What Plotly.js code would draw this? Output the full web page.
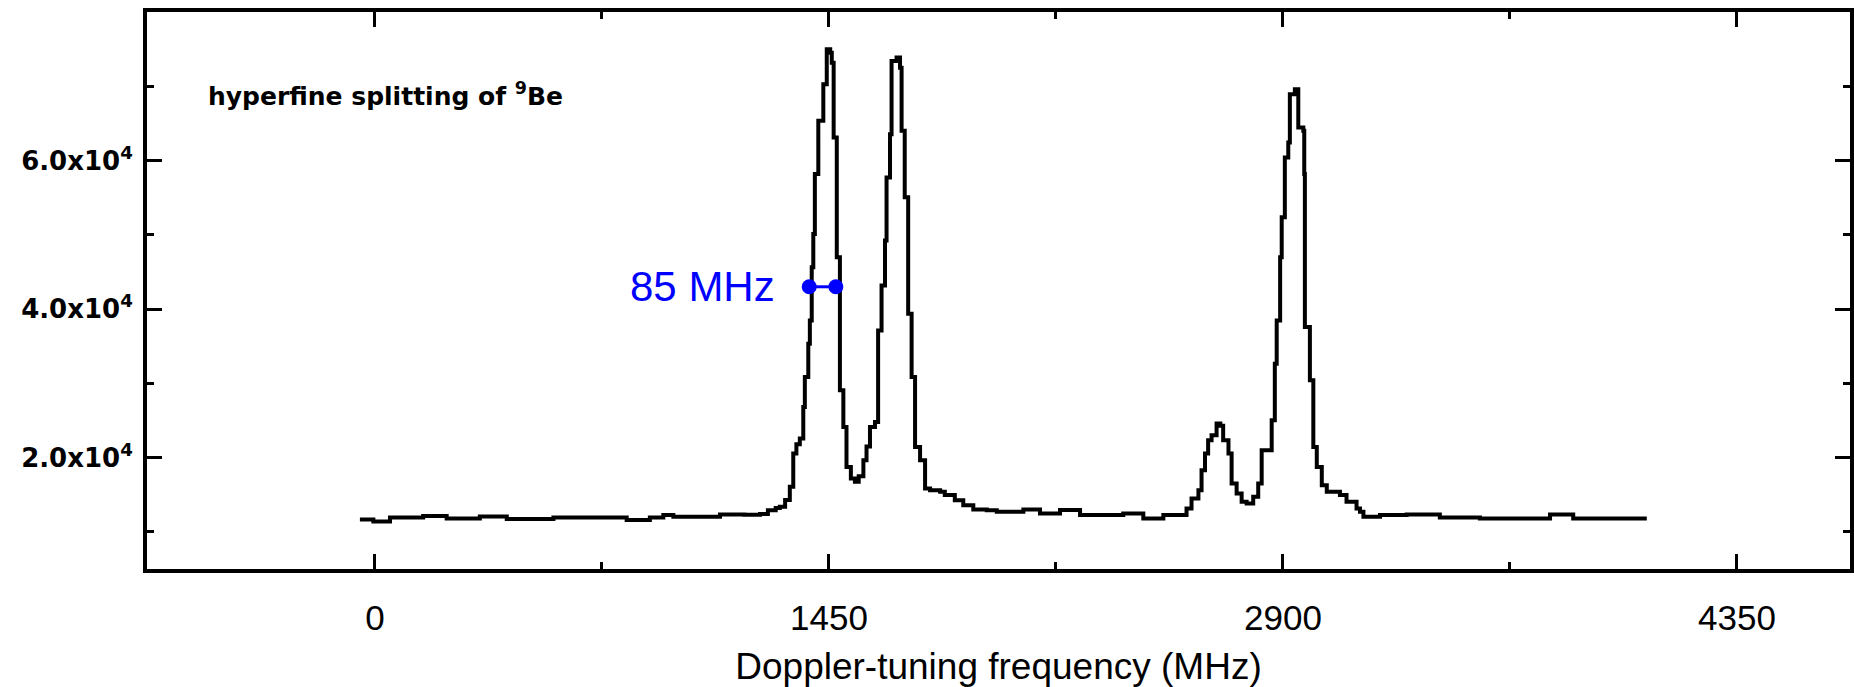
<!DOCTYPE html>
<html>
<head>
<meta charset="utf-8">
<script src="https://cdn.plot.ly/plotly-3.0.1.min.js"></script>
<style>
  html, body { margin: 0; padding: 0; background: #ffffff; }
  #chart { width: 1854px; height: 687px; }
</style>
</head>
<body>
<div id="chart"></div>
<script>
// Doppler-tuning frequency (MHz)
const freq = [
  -48, -5, 48, 154, 229, 335, 421, 570, 655, 804, 878, 921, 953, 1102, 1180, 1230,
  1255, 1280, 1293, 1310, 1325, 1336, 1346, 1357, 1368, 1373, 1384, 1389, 1395, 1400,
  1405, 1416, 1432, 1443, 1454, 1459, 1465, 1475, 1485, 1496, 1506, 1520, 1533, 1545,
  1560, 1570, 1581, 1597, 1607, 1618, 1629, 1634, 1645, 1650, 1666, 1677, 1682, 1692,
  1703, 1714, 1725, 1741, 1757, 1773, 1805, 1820, 1852, 1879, 1911, 1954, 1986, 2071,
  2124, 2188, 2252, 2390, 2454, 2518, 2571, 2592, 2608, 2630, 2640, 2651, 2661, 2672,
  2688, 2700, 2709, 2726, 2736, 2752, 2768, 2784, 2805, 2821, 2832, 2859, 2864, 2874,
  2880, 2891, 2896, 2906, 2917, 2922, 2938, 2949, 2965, 2968, 2970, 2986, 2997, 3008,
  3024, 3040, 3082, 3103, 3114, 3135, 3146, 3157, 3210, 3295, 3401, 3529, 3753, 3827,
  4062
];
// Signal counts
const counts = [
  11680, 11400, 11950, 12120, 11810, 12060, 11720, 11950, 11950, 11600, 11950, 12260, 12050, 12350, 12300, 12400,
  12900, 13200, 13370, 14300, 16060, 20550, 21800, 22570, 26810, 30850, 35330, 38460, 45630, 50120,
  58180, 65350, 70280, 74980, 74500, 73180, 63100, 46970, 29060, 24130, 18750, 17200, 16740, 17500,
  19650, 21500, 24130, 24800, 37120, 43170, 49220, 57730, 63550, 73410, 73860, 72500, 64000, 55040,
  39360, 30850, 21440, 19650, 15850, 15620, 15390, 14950, 14270, 13600, 13020, 12920, 12700, 13020,
  12480, 12930, 12260, 12480, 11810, 12260, 12260, 13160, 14500, 15620, 18310, 20550, 22340, 23010,
  24580, 24300, 22340, 20550, 16520, 15170, 14050, 13830, 14720, 16520, 20990, 20990, 25020, 32650,
  38460, 46970, 52350, 60410, 62430, 68920, 69600, 64450, 64000, 58180, 37570, 30400, 21440, 18750,
  16290, 15390, 14950, 14050, 14050, 13160, 12700, 12030, 12260, 12350, 11950, 11810, 12350, 11810,
  11810
];

const xTickVals = [0, 1450, 2900, 4350];
const xTickText = ["0", "1450", "2900", "4350"];
const xMinorVals = [725, 2175, 3625];
const yTickVals = [20000, 40000, 60000];
const yTickText = ["2.0x10<sup>4</sup>", "4.0x10<sup>4</sup>", "6.0x10<sup>4</sup>"];
const yMinorVals = [10000, 30000, 50000, 70000];

// FWHM marker of the first peak
const fwhmX = [1387, 1472];
const fwhmY = [43000, 43000];
const fwhmLabel = "85 MHz";
const plotLabel = "hyperfine splitting of <sup>9</sup>Be";
const xTitle = "Doppler-tuning frequency (MHz)";

const traces = [
  {
    x: freq, y: counts, type: "scatter", mode: "lines",
    line: { color: "#000000", width: 4, shape: "hv" },
    hoverinfo: "skip"
  },
  {
    x: fwhmX, y: fwhmY, type: "scatter", mode: "lines+markers",
    line: { color: "#0000ff", width: 3 },
    marker: { color: "#0000ff", size: 15 },
    hoverinfo: "skip"
  }
];

const layout = {
  width: 1854, height: 687,
  margin: { l: 147, r: 4, t: 12, b: 118, pad: 0 },
  paper_bgcolor: "#ffffff", plot_bgcolor: "#ffffff",
  showlegend: false,
  xaxis: {
    range: [-728, 4711], autorange: false,
    tickmode: "array", tickvals: xTickVals, ticktext: xTickText,
    ticks: "inside", ticklen: 15, tickwidth: 3, tickcolor: "#000000",
    minor: { tickmode: "array", tickvals: xMinorVals, ticks: "inside", ticklen: 7, tickwidth: 3, tickcolor: "#000000", showgrid: false },
    showline: true, linewidth: 4, linecolor: "#000000", mirror: "allticks",
    showgrid: false, zeroline: false,
    ticklabelstandoff: 15,
    tickfont: { family: "Liberation Sans, Arial, sans-serif", size: 35, color: "#000000" },
    title: { text: xTitle, standoff: 25, font: { family: "Liberation Sans, Arial, sans-serif", size: 37, color: "#000000" } }
  },
  yaxis: {
    range: [5000, 80000], autorange: false,
    tickmode: "array", tickvals: yTickVals, ticktext: yTickText,
    ticks: "inside", ticklen: 15, tickwidth: 3, tickcolor: "#000000",
    minor: { tickmode: "array", tickvals: yMinorVals, ticks: "inside", ticklen: 7, tickwidth: 3, tickcolor: "#000000", showgrid: false },
    showline: true, linewidth: 4, linecolor: "#000000", mirror: "allticks",
    showgrid: false, zeroline: false,
    ticklabelstandoff: 5,
    tickfont: { family: "DejaVu Sans, sans-serif", size: 26, weight: "bold", color: "#000000" }
  },
  annotations: [
    {
      x: 1285, y: 43000, xref: "x", yref: "y", xanchor: "right", yanchor: "middle",
      text: fwhmLabel, showarrow: false,
      font: { family: "Liberation Sans, Arial, sans-serif", size: 42, color: "#0000ff" }
    },
    {
      x: -540, y: 68900, xref: "x", yref: "y", xanchor: "left", yanchor: "middle",
      text: plotLabel, showarrow: false,
      font: { family: "DejaVu Sans, sans-serif", size: 25, weight: "bold", color: "#000000" }
    }
  ]
};

Plotly.newPlot("chart", traces, layout, { staticPlot: true, displayModeBar: false });
</script>
</body>
</html>
